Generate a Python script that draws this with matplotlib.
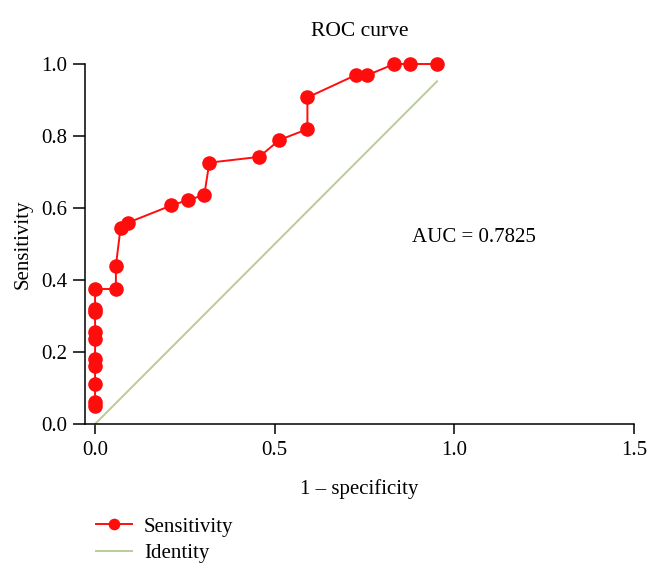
import matplotlib
matplotlib.use("Agg")
import matplotlib.pyplot as plt

# Data
fpr = [0, 0, 0, 0, 0, 0, 0, 0, 0, 0,
       0.058, 0.058, 0.071, 0.091, 0.212, 0.258, 0.304, 0.318,
       0.457, 0.513, 0.591, 0.591, 0.725, 0.758, 0.833, 0.876, 0.952]
sensitivity = [0.05, 0.06, 0.11, 0.16, 0.18, 0.235, 0.255, 0.31, 0.32, 0.375,
               0.375, 0.44, 0.545, 0.559, 0.607, 0.622, 0.636, 0.726,
               0.742, 0.789, 0.819, 0.907, 0.969, 0.969, 1.0, 1.0, 1.0]
identity_x = [0, 0.952]
identity_y = [0, 0.952]
xticks = [0.0, 0.5, 1.0, 1.5]
yticks = [0.0, 0.2, 0.4, 0.6, 0.8, 1.0]
auc_text = "AUC = 0.7825"

plt.rcParams['font.family'] = ['Liberation Serif', 'DejaVu Serif']
FS = 15

fig = plt.figure(figsize=(6.61, 5.80), dpi=100)
ax = fig.add_axes([85/661, 1 - 424/580, (634-85)/661, 360/580])

id_line, = ax.plot(identity_x, identity_y, color='#b9cc98', lw=1.4, clip_on=False,
                   label='Identity', zorder=2)
sens_line, = ax.plot(fpr, sensitivity, color='#ff0d0d', lw=1.4, marker='o',
                     markersize=10.5, markeredgewidth=0, clip_on=False,
                     label='Sensitivity', zorder=3)

ax.set_xlim(-0.028, 1.5)
ax.set_ylim(0, 1.0)
ax.set_xticks(xticks)
ax.set_xticklabels([f"{t:.1f}" for t in xticks])
ax.set_yticks(yticks)
ax.set_yticklabels([f"{t:.1f}" for t in yticks])

for s in ['top', 'right']:
    ax.spines[s].set_visible(False)
ax.spines['left'].set_bounds(0, 1.0)
ax.spines['bottom'].set_bounds(-0.028, 1.5)
for s in ['left', 'bottom']:
    ax.spines[s].set_linewidth(1.1)

ax.tick_params(axis='y', direction='out', length=9, width=1.1, labelsize=FS, pad=4)
ax.tick_params(axis='x', direction='out', length=7, width=1.1, labelsize=FS, pad=5)

ax.set_title("ROC curve", fontsize=15.5, pad=20)
ax.set_xlabel("1 \u2013 specificity", fontsize=FS, labelpad=14)
ax.set_ylabel("Sensitivity", fontsize=FS, labelpad=6)

ax.text(0.882, 0.517, auc_text, fontsize=FS, ha='left', va='center')

leg = fig.legend(handles=[sens_line, id_line], loc='upper left',
                 bbox_to_anchor=(96/661, 1 - 517/580), frameon=False,
                 fontsize=FS, handlelength=1.75, handletextpad=0.55,
                 labelspacing=0.35, borderaxespad=0, borderpad=0,
                 markerscale=0.8)

fig.savefig("out.png", dpi=100)
